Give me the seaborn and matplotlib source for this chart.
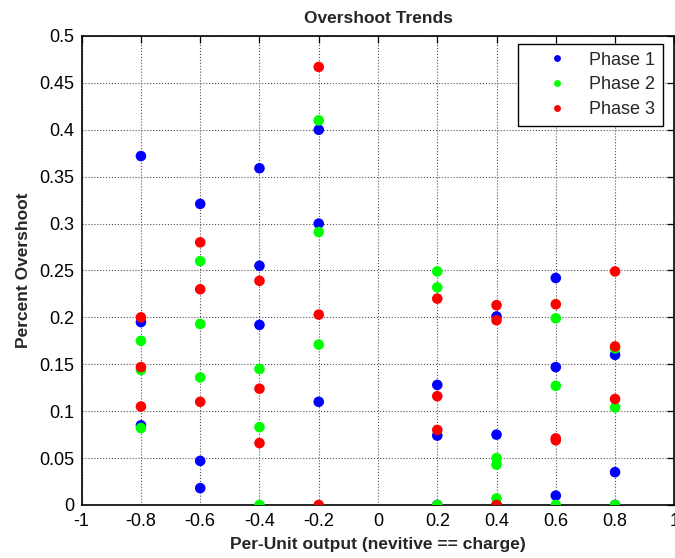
import numpy as np
import pandas as pd
import matplotlib
matplotlib.use("Agg")
import matplotlib.pyplot as plt
import seaborn as sns
from matplotlib.ticker import FuncFormatter, MultipleLocator

# ---- data ----
x_levels = [-0.8, -0.6, -0.4, -0.2, 0.2, 0.4, 0.6, 0.8]
phase1 = [[0.372, 0.195, 0.085], [0.321, 0.047, 0.018], [0.359, 0.255, 0.192],
          [0.400, 0.300, 0.110], [0.128, 0.074, 0.0], [0.201, 0.075, 0.0],
          [0.242, 0.147, 0.010], [0.160, 0.035, 0.0]]
phase2 = [[0.175, 0.144, 0.082], [0.260, 0.193, 0.136], [0.145, 0.083, 0.0],
          [0.410, 0.291, 0.171], [0.249, 0.232, 0.0], [0.050, 0.043, 0.007],
          [0.199, 0.127, 0.0], [0.167, 0.104, 0.0]]
phase3 = [[0.200, 0.147, 0.105], [0.280, 0.230, 0.110], [0.239, 0.124, 0.066],
          [0.467, 0.203, 0.0], [0.220, 0.116, 0.080], [0.213, 0.197, 0.0],
          [0.214, 0.071, 0.069], [0.249, 0.169, 0.113]]
phase_names = ["Phase 1", "Phase 2", "Phase 3"]
phase_colors = ["#0000ff", "#00ff00", "#ff0000"]
title = "Overshoot Trends"
xlabel = "Per-Unit output (nevitive == charge)"
ylabel = "Percent Overshoot"

rows = []
for name, series in zip(phase_names, [phase1, phase2, phase3]):
    for xv, vals in zip(x_levels, series):
        for v in vals:
            rows.append({"x": xv, "y": v, "phase": name})
df = pd.DataFrame(rows)

sns.set_theme(style="white")
plt.rcParams["font.family"] = ["Liberation Sans", "DejaVu Sans"]
plt.rcParams["axes.unicode_minus"] = False

fig = plt.figure(figsize=(6.75, 5.58), dpi=100)
ax = fig.add_axes([0.121, 0.095, 0.878, 0.8405])

sns.scatterplot(data=df, x="x", y="y", hue="phase", hue_order=phase_names,
                palette=phase_colors, s=58, linewidth=0, ax=ax, zorder=3)

ax.set_xlim(-1, 1)
ax.set_ylim(0, 0.5)
ax.xaxis.set_major_locator(MultipleLocator(0.2))
ax.yaxis.set_major_locator(MultipleLocator(0.05))
fmt = FuncFormatter(lambda v, p: "%g" % round(v, 4) if abs(v) > 1e-9 else "0")
ax.xaxis.set_major_formatter(fmt)
ax.yaxis.set_major_formatter(fmt)

ax.grid(True, color="#555555", linestyle=":", linewidth=0.8)
ax.set_axisbelow(True)
for sp in ax.spines.values():
    sp.set_color("black")
    sp.set_linewidth(1.2)
    sp.set_visible(True)
ax.tick_params(direction="in", length=5, width=0.9, top=True, right=True,
               labelsize=13, colors="black")
ax.tick_params(axis="x", pad=6)
ax.tick_params(axis="y", pad=5)

ax.set_title(title, fontsize=12.5, fontweight="bold", pad=9)
ax.set_xlabel(xlabel, fontsize=12.5, fontweight="bold", labelpad=5)
ax.set_ylabel(ylabel, fontsize=12.5, fontweight="bold", labelpad=6)

handles, labels = ax.get_legend_handles_labels()
leg = ax.legend(handles, labels, loc="upper right", bbox_to_anchor=(0.981, 0.983),
                borderaxespad=0, fontsize=13, markerscale=0.65, frameon=True,
                fancybox=False, edgecolor="black", borderpad=0.42,
                handlelength=3.5, handletextpad=0.05, labelspacing=0.43)
leg.get_frame().set_linewidth(1.0)
leg.get_frame().set_facecolor("white")
leg.get_frame().set_alpha(1)

fig.savefig("out.png", dpi=100)
